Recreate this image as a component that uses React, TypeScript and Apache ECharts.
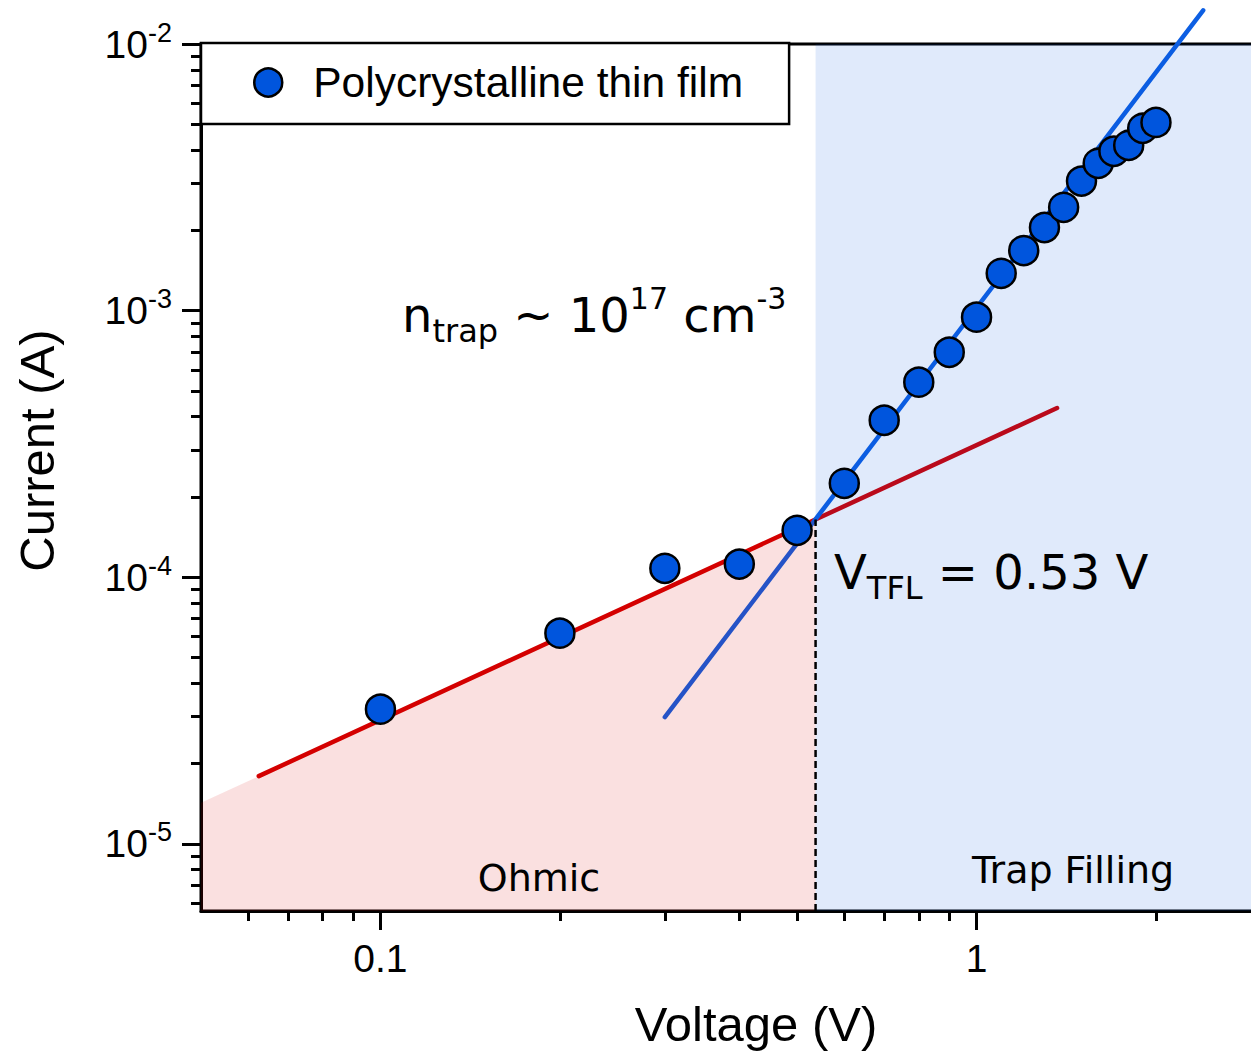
import React, { useEffect, useRef } from "react";
import * as echarts from "echarts";

// ---- data ----
const voltage = [0.1, 0.2, 0.3, 0.4, 0.5, 0.6, 0.7, 0.8, 0.9, 1.0, 1.1, 1.2, 1.3, 1.4, 1.5, 1.6, 1.7, 1.8, 1.9, 2.0];
const current = [3.2e-5, 6.17e-5, 1.08e-4, 1.12e-4, 1.5e-4, 2.25e-4, 3.88e-4, 5.39e-4, 6.98e-4, 9.45e-4, 1.38e-3, 1.68e-3, 2.05e-3, 2.44e-3, 3.06e-3, 3.57e-3, 3.96e-3, 4.17e-3, 4.83e-3, 5.08e-3];

// fitted lines (end points)
const ohmicFit = [[0.0625, 1.795e-5], [1.365, 4.31e-4]];
const tflFit = [[0.3, 2.99e-5], [2.4, 1.338e-2]];

// V_TFL boundary and region tops
const vTFL = 0.537;
const ohmicRegionTop = [[0.05, 1.425e-5], [vTFL, 1.646e-4]];
const trapRegionTop = [[vTFL, 1e-2], [3.64, 1e-2]];
const vtflMarker = [[vTFL, 5.6e-6], [vTFL, 1.646e-4]];

// axes
const xMin = 0.05;
const xMax = 3.64;
const yMin = 5.6e-6;
const yMax = 1e-2;
const xMajor = [0.1, 1];
const xMajorLabels = ["0.1", "1"];
const xMinor = [0.06, 0.07, 0.08, 0.09, 0.2, 0.3, 0.4, 0.5, 0.6, 0.7, 0.8, 0.9, 2, 3];
const yMajor = [1e-5, 1e-4, 1e-3, 1e-2];
const yMinor = [
  6e-6, 7e-6, 8e-6, 9e-6,
  2e-5, 3e-5, 4e-5, 5e-5, 6e-5, 7e-5, 8e-5, 9e-5,
  2e-4, 3e-4, 4e-4, 5e-4, 6e-4, 7e-4, 8e-4, 9e-4,
  2e-3, 3e-3, 4e-3, 5e-3, 6e-3, 7e-3, 8e-3, 9e-3,
];

const seriesName = "Polycrystalline thin film";

const ARIAL = "Liberation Sans, Arial, sans-serif";
const DEJAVU = "DejaVu Sans, sans-serif";

export default function App() {
  const ref = useRef<HTMLDivElement>(null);

  useEffect(() => {
    if (!ref.current) return;
    const chart = echarts.init(ref.current, undefined, { renderer: "svg" });

    const tickLine = { color: "#000", width: 3 };
    const baseX = {
      type: "log",
      logBase: 10,
      min: xMin,
      max: xMax,
      gridIndex: 0,
      position: "bottom",
      splitLine: { show: false },
      minorTick: { show: false },
      minorSplitLine: { show: false },
    };
    const baseY = {
      type: "log",
      logBase: 10,
      min: yMin,
      max: yMax,
      gridIndex: 0,
      position: "left",
      splitLine: { show: false },
      minorTick: { show: false },
      minorSplitLine: { show: false },
    };

    const points = voltage.map((v, i) => [v, current[i]]);

    const option: any = {
      animation: false,
      backgroundColor: "#fff",
      grid: {
        left: 201,
        top: 44,
        width: 1110,
        height: 867,
        show: true,
        borderColor: "#000",
        borderWidth: 3,
        backgroundColor: "transparent",
        containLabel: false,
        outerBoundsMode: "none",
      },
      legend: {
        show: true,
        left: 201,
        top: 43,
        orient: "horizontal",
        padding: [18, 46, 20, 52],
        itemWidth: 28,
        itemHeight: 28,
        borderColor: "#000",
        borderWidth: 2.5,
        borderRadius: 0,
        backgroundColor: "#fff",
        selectedMode: false,
        textStyle: { fontFamily: ARIAL, fontSize: 42.5, color: "#000", padding: [0, 0, 0, 26] },
        data: [
          {
            name: seriesName,
            icon: "circle",
            itemStyle: { color: "#0055dd", borderColor: "#000", borderWidth: 2.5 },
          },
        ],
        z: 20,
      },
      xAxis: [
        {
          ...baseX,
          name: "Voltage (V)",
          nameLocation: "middle",
          nameGap: 88,
          nameMoveOverlap: false,
          nameTextStyle: { fontFamily: ARIAL, fontSize: 49, color: "#000" },
          axisLine: { show: true, onZero: false, lineStyle: tickLine },
          axisTick: { show: true, inside: false, length: 19, lineStyle: tickLine, customValues: xMajor },
          axisLabel: {
            show: true,
            customValues: xMajor,
            margin: 28,
            fontFamily: ARIAL,
            fontSize: 39,
            color: "#000",
            formatter: (v: number) => {
              let best = 0;
              xMajor.forEach((m, i) => {
                if (Math.abs(Math.log10(m) - Math.log10(v)) < Math.abs(Math.log10(xMajor[best]) - Math.log10(v))) best = i;
              });
              return xMajorLabels[best];
            },
          },
        },
        {
          ...baseX,
          axisLine: { show: false, onZero: false },
          axisLabel: { show: false },
          axisTick: { show: true, inside: false, length: 10, lineStyle: tickLine, customValues: xMinor },
        },
      ],
      yAxis: [
        {
          ...baseY,
          name: "Current (A)",
          nameLocation: "middle",
          nameGap: 140,
          nameMoveOverlap: false,
          nameTextStyle: { fontFamily: ARIAL, fontSize: 49, color: "#000", padding: [0, 0, 0, 54] },
          axisLine: { show: true, onZero: false, lineStyle: tickLine },
          axisTick: { show: true, inside: false, length: 19, lineStyle: tickLine, customValues: yMajor },
          axisLabel: {
            show: true,
            customValues: yMajor,
            margin: 29,
            color: "#000",
            formatter: (v: number) => `{b|10}{s|${Math.round(Math.log10(v))}}`,
            rich: {
              b: { fontFamily: ARIAL, fontSize: 39, lineHeight: 50, color: "#000" },
              s: { fontFamily: ARIAL, fontSize: 27, lineHeight: 27, verticalAlign: "top", color: "#000" },
            },
          },
        },
        {
          ...baseY,
          axisLine: { show: false, onZero: false },
          axisLabel: { show: false },
          axisTick: { show: true, inside: false, length: 10, lineStyle: tickLine, customValues: yMinor },
        },
      ],
      series: [
        {
          type: "line",
          name: "ohmic fit",
          data: ohmicFit,
          xAxisIndex: 0,
          yAxisIndex: 0,
          symbol: "none",
          silent: true,
          lineStyle: { color: "#d40000", width: 4.5, cap: "round" },
          z: 2,
        },
        {
          type: "line",
          name: "tfl fit",
          data: tflFit,
          xAxisIndex: 0,
          yAxisIndex: 0,
          symbol: "none",
          silent: true,
          clip: false,
          lineStyle: { color: "#0d5fe3", width: 4.5, cap: "round" },
          z: 2,
        },
        {
          type: "line",
          name: "ohmic region",
          data: ohmicRegionTop,
          xAxisIndex: 0,
          yAxisIndex: 0,
          symbol: "none",
          silent: true,
          lineStyle: { width: 0, opacity: 0 },
          areaStyle: { color: "rgba(212,0,0,0.12)", origin: "start", opacity: 1 },
          z: 3,
        },
        {
          type: "line",
          name: "trap region",
          data: trapRegionTop,
          xAxisIndex: 0,
          yAxisIndex: 0,
          symbol: "none",
          silent: true,
          lineStyle: { width: 0, opacity: 0 },
          areaStyle: { color: "rgba(0,85,221,0.12)", origin: "start", opacity: 1 },
          z: 3,
        },
        {
          type: "line",
          name: "VTFL",
          data: vtflMarker,
          xAxisIndex: 0,
          yAxisIndex: 0,
          symbol: "none",
          silent: true,
          lineStyle: { color: "#000", width: 2.5, type: [7, 4] },
          z: 4,
        },
        {
          type: "scatter",
          name: seriesName,
          data: points,
          xAxisIndex: 0,
          yAxisIndex: 0,
          symbol: "circle",
          symbolSize: 29,
          itemStyle: { color: "#0055dd", borderColor: "#000", borderWidth: 2.5, opacity: 1 },
          z: 5,
        },
      ],
      graphic: [
        {
          type: "text",
          x: 402,
          y: 315,
          z: 30,
          style: {
            text: "{m|n}{sub|trap}{m| ~ 10}{sup|17}{m| cm}{sup|-3}",
            fontFamily: DEJAVU,
            fill: "#000",
            align: "left",
            verticalAlign: "middle",
            rich: {
              m: { fontFamily: DEJAVU, fontSize: 48, lineHeight: 64, fill: "#000" },
              sub: { fontFamily: DEJAVU, fontSize: 32, lineHeight: 32, verticalAlign: "bottom", fill: "#000" },
              sup: { fontFamily: DEJAVU, fontSize: 30, lineHeight: 40, verticalAlign: "top", fill: "#000" },
            },
          },
        },
        {
          type: "text",
          x: 834,
          y: 572,
          z: 30,
          style: {
            text: "{m|V}{sub|TFL}{m| = 0.53 V}",
            fontFamily: DEJAVU,
            fill: "#000",
            align: "left",
            verticalAlign: "middle",
            rich: {
              m: { fontFamily: DEJAVU, fontSize: 48, lineHeight: 64, fill: "#000" },
              sub: { fontFamily: DEJAVU, fontSize: 32, lineHeight: 37, verticalAlign: "bottom", fill: "#000" },
            },
          },
        },
        {
          type: "text",
          x: 539,
          y: 878,
          z: 30,
          style: { text: "Ohmic", fontFamily: DEJAVU, fontSize: 38, fill: "#000", align: "center", verticalAlign: "middle" },
        },
        {
          type: "text",
          x: 1073,
          y: 870,
          z: 30,
          style: { text: "Trap Filling", fontFamily: DEJAVU, fontSize: 38, fill: "#000", align: "center", verticalAlign: "middle" },
        },
      ],
    };

    chart.setOption(option);
    return () => chart.dispose();
  }, []);

  return (
    <div
      ref={ref}
      style={{ position: "absolute", left: 0, top: 0, width: 1251, height: 1057, background: "#fff" }}
    />
  );
}
